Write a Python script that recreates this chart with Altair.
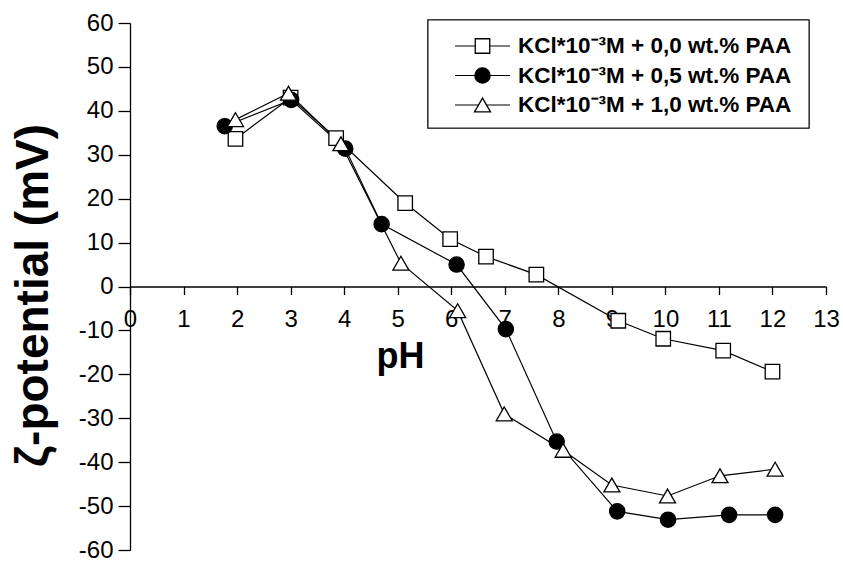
import altair as alt
import pandas as pd

# ---------------- data ----------------
series_names = [
    "KCl*10⁻³M + 0,0 wt.% PAA",
    "KCl*10⁻³M + 0,5 wt.% PAA",
    "KCl*10⁻³M + 1,0 wt.% PAA",
]
ph_00 = [1.97, 3.00, 3.85, 5.14, 5.98, 6.65, 7.59, 9.12, 9.96, 11.08, 12.00]
zeta_00 = [33.6, 43.0, 33.8, 19.0, 10.8, 6.8, 2.7, -7.8, -11.9, -14.6, -19.4]
ph_05 = [1.77, 3.01, 4.02, 4.70, 6.10, 7.02, 7.97, 9.10, 10.05, 11.19, 12.05]
zeta_05 = [36.5, 42.5, 31.4, 14.2, 5.0, -9.7, -35.3, -51.2, -53.1, -52.0, -52.0]
ph_10 = [1.97, 2.96, 3.94, 5.06, 6.12, 6.99, 8.09, 9.00, 10.04, 11.02, 12.05]
zeta_10 = [38.0, 44.0, 32.5, 5.3, -5.5, -29.0, -37.3, -45.2, -47.7, -43.1, -41.6]

x_ticks = list(range(0, 14))
y_ticks = list(range(-60, 61, 10))

rows = []
for name, xs, ys in zip(series_names, [ph_00, ph_05, ph_10], [zeta_00, zeta_05, zeta_10]):
    for i, (a, b) in enumerate(zip(xs, ys)):
        rows.append({"series": name, "pH": a, "zeta": b, "idx": i})
df = pd.DataFrame(rows)
legend_df = pd.DataFrame({"series": series_names})

FONT = "Liberation Sans"

shape_enc = alt.Shape("series:N", scale=alt.Scale(domain=series_names,
                      range=["square", "circle", "triangle-up"]), legend=None)
fill_enc = alt.Fill("series:N", scale=alt.Scale(domain=series_names,
                    range=["white", "black", "white"]), legend=None)
size_enc = alt.Size("series:N", scale=alt.Scale(domain=series_names,
                    range=[210, 256, 380]), legend=None)

# ---------------- main plot ----------------
x_enc = alt.X(
    "pH:Q",
    scale=alt.Scale(domain=[0, 13], nice=False, zero=False),
    axis=alt.Axis(
        values=x_ticks, offset=-263.5, tickSize=8, labelPadding=13,
        labelFontSize=24, labelFont=FONT, labelColor="black", labelFlush=False,
        labelOverlap=False, tickColor="black", domainColor="black",
        tickWidth=1.3, domainWidth=1.3, grid=False,
        title="pH", titleFont=FONT, titleFontSize=36, titleFontWeight="bold",
        titleColor="black", titleX=270, titleY=81, titleAlign="center",
        titleBaseline="alphabetic", titleAngle=0,
    ),
)
y_enc = alt.Y(
    "zeta:Q",
    scale=alt.Scale(domain=[-60, 60], nice=False, zero=False),
    axis=alt.Axis(
        values=y_ticks, tickSize=12, labelPadding=5, labelFontSize=24,
        labelFont=FONT, labelColor="black", labelFlush=False, labelOverlap=False,
        labelExpr="'' + datum.value",
        tickColor="black", domainColor="black", tickWidth=1.3, domainWidth=1.3,
        grid=False, title="ζ-potential (mV)", titleFont=FONT, titleFontSize=46,
        titleFontWeight="bold", titleColor="black", titleX=-83, titleY=272,
        titleAngle=270, titleAlign="center", titleBaseline="alphabetic",
    ),
)

lines = alt.Chart(df).mark_line(color="black", strokeWidth=1.2).encode(
    x=x_enc, y=y_enc, detail="series:N", order="idx:Q"
)
points = alt.Chart(df).mark_point(
    filled=True, stroke="black", strokeWidth=1.3, opacity=1
).encode(x=x_enc, y=y_enc, shape=shape_enc, fill=fill_enc, size=size_enc)

main = alt.layer(lines, points)

# ---------------- legend (drawn from the series list) ----------------
leg_y = alt.Y("series:N", scale=alt.Scale(type="point", domain=series_names,
              range=[23, 82], padding=0), axis=None)

leg_box = alt.Chart(legend_df).mark_rect(
    fill="white", stroke="#222222", strokeWidth=1.1
).encode(x=alt.value(298), x2=alt.value(679), y=alt.value(-3), y2=alt.value(105))

leg_rule = alt.Chart(legend_df).mark_rule(color="black", strokeWidth=1.2).encode(
    y=leg_y, x=alt.value(325), x2=alt.value(380)
)
leg_pts = alt.Chart(legend_df).mark_point(
    filled=True, stroke="black", strokeWidth=1.3, opacity=1
).encode(y=leg_y, x=alt.value(352.5), shape=shape_enc, fill=fill_enc, size=size_enc)

leg_txt = alt.Chart(legend_df).mark_text(
    align="left", baseline="middle", font=FONT, fontSize=22.5,
    fontWeight="bold", color="black"
).encode(y=leg_y, x=alt.value(388), text="series:N")

legend = alt.layer(leg_box, leg_rule, leg_pts, leg_txt)

chart = (
    alt.layer(main, legend)
    .resolve_scale(y="independent")
    .properties(
        width=696, height=527,
        padding={"left": 130, "top": 23, "right": 17, "bottom": 11},
        autosize=alt.AutoSizeParams(type="none"),
        background="white",
    )
    .configure_view(stroke=None)
)

chart.save("out.html", embed_options={"renderer": "svg", "actions": False})
